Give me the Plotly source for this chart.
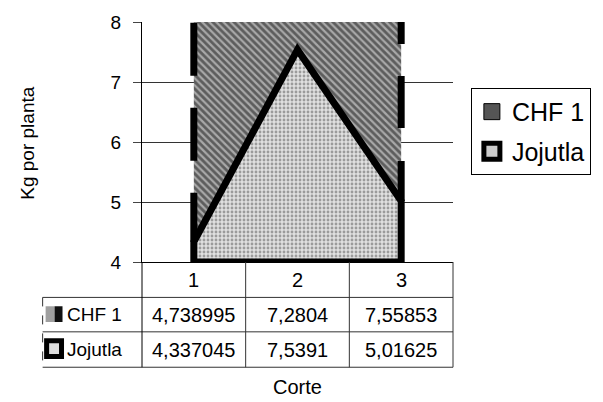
import plotly.graph_objects as go

# ---- data ----
CATEGORIES = ["1", "2", "3"]
SERIES_NAMES = ["CHF 1", "Jojutla"]
CHF1 = [4.738995, 7.2804, 7.55853]
JOJUTLA = [4.337045, 7.5391, 5.01625]
CHF1_LABELS = ["4,738995", "7,2804", "7,55853"]
JOJUTLA_LABELS = ["4,337045", "7,5391", "5,01625"]
Y_TICKS = [4, 5, 6, 7, 8]
X_TITLE = "Corte"
Y_TITLE = "Kg por planta"

# ---- layout geometry ----
W, H = 603, 402
L, R, T, B = 142, 455, 18, 262
PW, PH = R - L, B - T
FONT = "Liberation Sans, Arial, sans-serif"
YMIN, YMAX = Y_TICKS[0], Y_TICKS[-1]


def pxx(px):
    return (px - L) / PW


def pxy(py):
    return (B - py) / PH


xs = list(range(1, len(CATEGORIES) + 1))
n = len(xs)
stack_top = [j + c for j, c in zip(JOJUTLA, CHF1)]

fig = go.Figure()

# CHF 1 stacked area (on top of Jojutla)
fig.add_trace(go.Scatter(
    x=xs + xs[::-1] + [xs[0]],
    y=stack_top + JOJUTLA[::-1] + [stack_top[0]],
    fill="toself", mode="lines", line=dict(width=0, color="rgba(0,0,0,0)"),
    fillcolor="#606060",
    fillpattern=dict(shape="\\", fgcolor="#111", bgcolor="#a8a8a8", size=5, solidity=0.55),
    showlegend=False, hoverinfo="skip"))

# Jojutla area with thick black outline
fig.add_trace(go.Scatter(
    x=[xs[0]] + xs + [xs[-1], xs[0]],
    y=[YMIN] + JOJUTLA + [YMIN, YMIN],
    fill="toself", mode="lines", line=dict(width=7, color="black"),
    fillcolor="#cccccc",
    fillpattern=dict(shape=".", fgcolor="#555", bgcolor="#e0e0e0", size=4, solidity=0.4),
    showlegend=False, hoverinfo="skip"))

# dashed vertical borders of CHF 1 area
fig.add_trace(go.Scatter(
    x=[xs[0], xs[0]], y=[JOJUTLA[0], stack_top[0]], mode="lines",
    line=dict(width=7, color="black", dash="49px,32px,53px,32px,53px,32px"),
    showlegend=False, hoverinfo="skip"))
fig.add_trace(go.Scatter(
    x=[xs[-1], xs[-1]], y=[JOJUTLA[-1], stack_top[-1]], mode="lines",
    line=dict(width=7, color="black", dash="40px,33px,52px,32px,53px,32px"),
    showlegend=False, hoverinfo="skip"))

# legend entries
fig.add_trace(go.Scatter(
    x=[None], y=[None], mode="markers", name=SERIES_NAMES[0], legendgroup="a",
    marker=dict(symbol="square", size=16, color="#555555", line=dict(color="black", width=1))))
fig.add_trace(go.Scatter(
    x=[None], y=[None], mode="markers", name=SERIES_NAMES[1], legendgroup="b",
    marker=dict(symbol="square", size=16, color="#cccccc", line=dict(color="black", width=5))))

shapes = []
annotations = []
line_c = "#333"

# table geometry
row_edges = [B, 298, 333, 369]
label_left = 42
col_edges = [L + PW * k / n for k in range(n + 1)]

for ry in row_edges[1:]:
    shapes.append(dict(type="line", xref="paper", yref="paper",
                       x0=pxx(label_left), x1=pxx(R), y0=pxy(ry), y1=pxy(ry),
                       line=dict(color=line_c, width=1)))
for cx in col_edges:
    shapes.append(dict(type="line", xref="paper", yref="paper",
                       x0=pxx(cx), x1=pxx(cx), y0=pxy(B), y1=pxy(row_edges[-1]),
                       line=dict(color=line_c if cx > L else "black", width=1)))
shapes.append(dict(type="line", xref="paper", yref="paper",
                   x0=pxx(label_left), x1=pxx(label_left), y0=pxy(row_edges[1]), y1=pxy(row_edges[-1]),
                   line=dict(color=line_c, width=1, dash="dash")))

cell_font = dict(family=FONT, size=20, color="black")
for x, c in zip(xs, CATEGORIES):
    annotations.append(dict(x=x, xref="x", y=pxy((row_edges[0] + row_edges[1]) / 2), yref="paper",
                            text=c, showarrow=False, xanchor="center", yanchor="middle", font=cell_font))
for r, labels in enumerate([CHF1_LABELS, JOJUTLA_LABELS]):
    yc = pxy((row_edges[r + 1] + row_edges[r + 2]) / 2)
    for x, t in zip(xs, labels):
        annotations.append(dict(x=x, xref="x", y=yc, yref="paper", text=t, showarrow=False,
                                xanchor="center", yanchor="middle", font=cell_font))
    annotations.append(dict(x=pxx(65), xref="paper", y=yc, yref="paper", text=SERIES_NAMES[r],
                            xanchor="left", yanchor="middle", showarrow=False,
                            font=dict(family=FONT, size=19, color="black")))

# swatches in table
sw_y = [(307, 323), (342, 358)]
shapes.append(dict(type="rect", xref="paper", yref="paper", x0=pxx(45), x1=pxx(54),
                   y0=pxy(sw_y[0][1]), y1=pxy(sw_y[0][0]), line=dict(width=0), fillcolor="#a0a0a0"))
shapes.append(dict(type="rect", xref="paper", yref="paper", x0=pxx(54), x1=pxx(62),
                   y0=pxy(sw_y[0][1]), y1=pxy(sw_y[0][0]), line=dict(width=0), fillcolor="#111"))
shapes.append(dict(type="rect", xref="paper", yref="paper", x0=pxx(46), x1=pxx(61),
                   y0=pxy(sw_y[1][1]), y1=pxy(sw_y[1][0]), line=dict(width=5, color="black"),
                   fillcolor="#dddddd"))

annotations.append(dict(x=pxx(298), xref="paper", y=pxy(389), yref="paper", text=X_TITLE,
                        xanchor="center", yanchor="middle", showarrow=False, font=cell_font))
annotations.append(dict(x=pxx(27), xref="paper", y=pxy(141), yref="paper", text=Y_TITLE,
                        xanchor="center", yanchor="middle",
                        textangle=-90, showarrow=False, font=dict(family=FONT, size=19, color="black")))

fig.update_layout(
    width=W, height=H,
    margin=dict(l=L, r=W - R, t=T, b=H - B),
    paper_bgcolor="white", plot_bgcolor="white",
    shapes=shapes, annotations=annotations,
    legend=dict(x=pxx(473), y=pxy(85), xanchor="left", yanchor="top",
                bordercolor="black", borderwidth=1, bgcolor="white",
                font=dict(family=FONT, size=25, color="black"),
                tracegroupgap=4, traceorder="grouped"),
    xaxis=dict(range=[0.5, n + 0.5], showticklabels=False, ticks="", showgrid=False,
               zeroline=False, showline=True, linecolor="black", linewidth=1),
    yaxis=dict(range=[YMIN, YMAX], tickvals=Y_TICKS, ticks="outside", ticklen=8,
               tickcolor="#444", showgrid=True, gridcolor="#333", gridwidth=1,
               zeroline=False, showline=True, linecolor="black", linewidth=1,
               tickfont=dict(family=FONT, size=19, color="black"), ticklabelstandoff=8),
)

fig.write_html("out.html")
